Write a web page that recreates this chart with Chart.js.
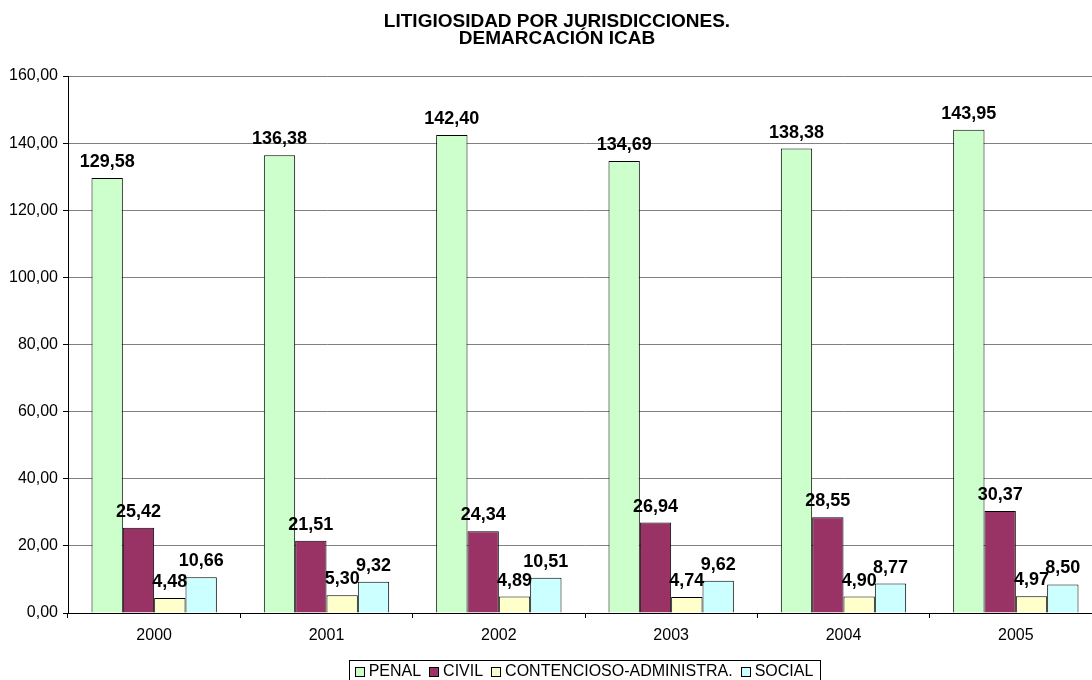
<!DOCTYPE html>
<html lang="es">
<head>
<meta charset="UTF-8" />
<title>Litigiosidad por jurisdicciones</title>
<script src="https://cdn.jsdelivr.net/npm/chart.js"></script>
<style>
    html, body { margin: 0; background: #fff; overflow: hidden; }
    #wrap { width: 1110px; height: 680px; }
</style>
</head>
<body>
<!-- el grafico original esta recortado por la derecha: el lienzo es algo mas ancho que la ventana -->
<div id="wrap"><canvas id="chart" width="1110" height="680"></canvas></div>
<script>
// Datos
const years = ["2000", "2001", "2002", "2003", "2004", "2005"];
const penal = [129.58, 136.38, 142.40, 134.69, 138.38, 143.95];
const civil = [25.42, 21.51, 24.34, 26.94, 28.55, 30.37];
const contencioso = [4.48, 5.30, 4.89, 4.74, 4.90, 4.97];
const social = [10.66, 9.32, 10.51, 9.62, 8.77, 8.50];
const seriesNames = ["PENAL", "CIVIL", "CONTENCIOSO-ADMINISTRA.", "SOCIAL"];
const seriesColors = ["#CCFFCC", "#993366", "#FFFFCC", "#CCFFFF"];
const titleLines = ["LITIGIOSIDAD POR JURISDICCIONES.", "DEMARCACIÓN ICAB"];

const FONT = "Arial, 'Liberation Sans', sans-serif";

function fmt(v) {
    return v.toFixed(2).replace(".", ",");
}

// titulo, etiquetas de valor y leyenda con recuadro
const decoPlugin = {
    id: "deco",
    afterDatasetsDraw(chart) {
        const ctx = chart.ctx;
        ctx.save();
        ctx.fillStyle = "#000";
        ctx.font = "bold 18px " + FONT;
        ctx.textAlign = "center";
        ctx.textBaseline = "alphabetic";
        chart.data.datasets.forEach((ds, i) => {
            chart.getDatasetMeta(i).data.forEach((bar, j) => {
                ctx.fillText(fmt(ds.data[j]), bar.x, bar.y - 11);
            });
        });
        ctx.restore();
    },
    afterDraw(chart) {
        const ctx = chart.ctx;
        ctx.save();
        // titulo
        ctx.fillStyle = "#000";
        ctx.font = "bold 19px " + FONT;
        ctx.textAlign = "center";
        ctx.fillText(titleLines[0], 557, 27);
        ctx.fillText(titleLines[1], 557, 44);

        // leyenda
        ctx.font = "16px " + FONT;
        ctx.textAlign = "left";
        ctx.textBaseline = "middle";
        const box = 10, gapText = 4, gapItem = 8, pad = 6;
        let total = 0;
        seriesNames.forEach((n, i) => {
            total += box + gapText + ctx.measureText(n).width;
            if (i < seriesNames.length - 1) total += gapItem;
        });
        const cx = 584, ly = 672;
        let x = cx - total / 2;
        ctx.strokeStyle = "#000";
        ctx.lineWidth = 1;
        ctx.strokeRect(Math.round(x - pad) + 0.5, 660.5, Math.round(total + pad * 2), 30);
        seriesNames.forEach((n, i) => {
            ctx.fillStyle = seriesColors[i];
            ctx.fillRect(Math.round(x), ly - 5, box, box);
            ctx.strokeRect(Math.round(x) + 0.5, ly - 4.5, box - 1, box - 1);
            x += box + gapText;
            ctx.fillStyle = "#000";
            ctx.fillText(n, x, ly);
            x += ctx.measureText(n).width + gapItem;
        });
        ctx.restore();
    }
};

const values = [penal, civil, contencioso, social];

new Chart(document.getElementById("chart"), {
    type: "bar",
    data: {
        labels: years,
        datasets: values.map((d, i) => ({
            label: seriesNames[i],
            data: d,
            backgroundColor: seriesColors[i],
            borderColor: "#000",
            borderWidth: 1,
            categoryPercentage: 4 / 5.5, // hueco de 150%
            barPercentage: 1
        }))
    },
    options: {
        responsive: false,
        animation: false,
        devicePixelRatio: 1,
        layout: { padding: { top: 76, right: 8, bottom: 27, left: 0 } },
        plugins: {
            legend: { display: false },
            title: { display: false },
            tooltip: { enabled: false }
        },
        scales: {
            x: {
                grid: {
                    offset: true,
                    drawOnChartArea: false,
                    tickColor: "#000",
                    tickLength: 5
                },
                border: { color: "#000", width: 1 },
                ticks: {
                    color: "#000",
                    font: { family: FONT, size: 16 },
                    padding: 8
                },
                afterFit(scale) { scale.height = 40; }
            },
            y: {
                min: 0,
                max: 160,
                grid: {
                    color: "#808080",
                    tickColor: "#000",
                    tickLength: 5
                },
                border: { color: "#000", width: 1 },
                ticks: {
                    stepSize: 20,
                    color: "#000",
                    font: { family: FONT, size: 16 },
                    padding: 5,
                    callback: (v) => fmt(v)
                },
                afterFit(scale) { scale.width = 68; }
            }
        }
    },
    plugins: [decoPlugin]
});
</script>
</body>
</html>
